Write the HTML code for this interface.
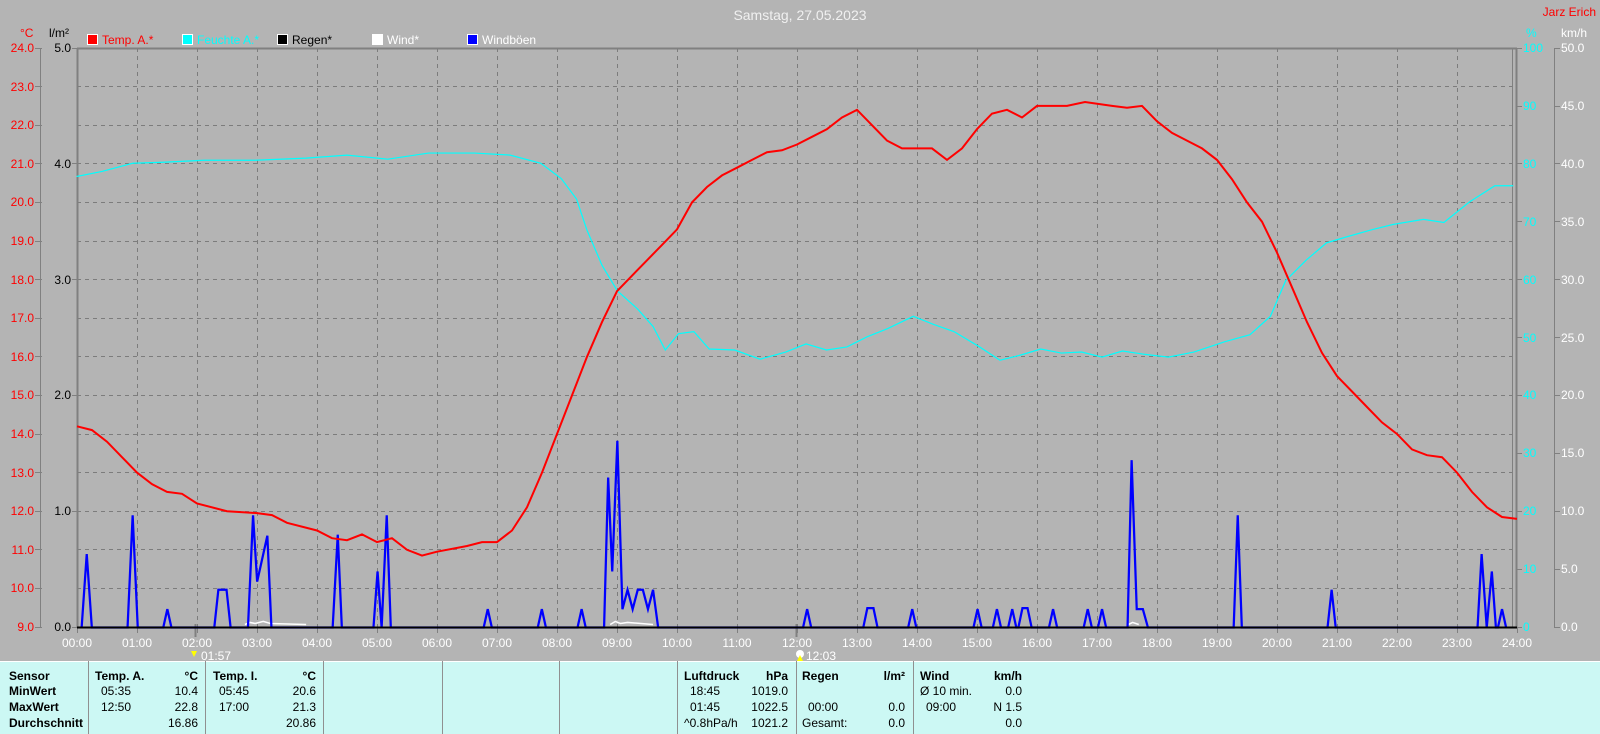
<!DOCTYPE html>
<html><head><meta charset="utf-8"><style>
body{margin:0;width:1600px;height:734px;overflow:hidden;background:#b4b4b4;font-family:"Liberation Sans",Arial,sans-serif;}
svg{position:absolute;left:0;top:0}
.t{position:absolute;font-size:12px;white-space:nowrap;line-height:14px}
.b{font-weight:bold}
.r{text-align:right}
</style></head><body>
<svg width="1600" height="734" font-family="Liberation Sans, Arial, sans-serif" font-size="12">
<text x="800" y="20" fill="#f0f0f0" font-size="14" text-anchor="middle">Samstag, 27.05.2023</text>
<text x="1596" y="16" fill="#ff0000" text-anchor="end">Jarz Erich</text>
<text x="20" y="37" fill="#ff0000">°C</text>
<text x="49" y="37" fill="#000">l/m²</text>
<text x="1526" y="37" fill="#00ffff">%</text>
<text x="1561" y="37" fill="#fff">km/h</text>
<!-- legend -->
<rect x="87.5" y="34.5" width="10" height="10" fill="#f00" stroke="#fff"/><text x="102" y="44" fill="#f00">Temp. A.*</text>
<rect x="182.5" y="34.5" width="10" height="10" fill="#0ff" stroke="#fff"/><text x="197" y="44" fill="#0ff">Feuchte A.*</text>
<rect x="277.5" y="34.5" width="10" height="10" fill="#000" stroke="#fff"/><text x="292" y="44" fill="#000">Regen*</text>
<rect x="372.5" y="34.5" width="10" height="10" fill="#fff" stroke="#fff"/><text x="387" y="44" fill="#fff">Wind*</text>
<rect x="467.5" y="34.5" width="10" height="10" fill="#00f" stroke="#fff"/><text x="482" y="44" fill="#fff">Windböen</text>
<!-- grid -->
<g stroke="#7c7c7c" stroke-dasharray="4,4" stroke-width="1">
<path d="M137.5 48V627M197.5 48V627M257.5 48V627M317.5 48V627M377.5 48V627M437.5 48V627M497.5 48V627M557.5 48V627M617.5 48V627M677.5 48V627M737.5 48V627M797.5 48V627M857.5 48V627M917.5 48V627M977.5 48V627M1037.5 48V627M1097.5 48V627M1157.5 48V627M1217.5 48V627M1277.5 48V627M1337.5 48V627M1397.5 48V627M1457.5 48V627"/>
<path d="M77 86.5H1512M77 125.5H1512M77 163.5H1512M77 202.5H1512M77 241.5H1512M77 279.5H1512M77 318.5H1512M77 356.5H1512M77 395.5H1512M77 434.5H1512M77 472.5H1512M77 511.5H1512M77 549.5H1512M77 588.5H1512"/>
</g>
<!-- axes -->
<g stroke="#808080" fill="none">
<path d="M77 48.5H1517" stroke-width="2"/>
<path d="M77.5 48V628" stroke-width="2"/>
<path d="M1512.5 48V627"/>
<path d="M1516.5 48V627" stroke-width="2"/>
<path d="M40.5 48V627"/>
<path d="M1554.5 48V627"/>
<path d="M35 48.5H42M35 86.5H42M35 125.5H42M35 163.5H42M35 202.5H42M35 241.5H42M35 279.5H42M35 318.5H42M35 356.5H42M35 395.5H42M35 434.5H42M35 472.5H42M35 511.5H42M35 549.5H42M35 588.5H42M35 627.5H42"/>
<path d="M72 48.5H77M72 163.5H77M72 279.5H77M72 395.5H77M72 511.5H77M72 627.5H77"/>
<path d="M1517 48.5H1522M1517 106.5H1522M1517 163.5H1522M1517 221.5H1522M1517 279.5H1522M1517 337.5H1522M1517 395.5H1522M1517 453.5H1522M1517 511.5H1522M1517 569.5H1522M1517 627.5H1522"/>
<path d="M1554 48.5H1560M1554 106.5H1560M1554 163.5H1560M1554 221.5H1560M1554 279.5H1560M1554 337.5H1560M1554 395.5H1560M1554 453.5H1560M1554 511.5H1560M1554 569.5H1560M1554 627.5H1560"/>
<path d="M77.5 627V633M137.5 627V633M197.5 627V633M257.5 627V633M317.5 627V633M377.5 627V633M437.5 627V633M497.5 627V633M557.5 627V633M617.5 627V633M677.5 627V633M737.5 627V633M797.5 627V633M857.5 627V633M917.5 627V633M977.5 627V633M1037.5 627V633M1097.5 627V633M1157.5 627V633M1217.5 627V633M1277.5 627V633M1337.5 627V633M1397.5 627V633M1457.5 627V633M1517.5 627V633"/>
<path d="M195.5 624V637M796.5 624V637" stroke-width="2"/>
</g>
<g fill="#ff0000" text-anchor="end">
<text x="34" y="52">24.0</text><text x="34" y="91">23.0</text><text x="34" y="129">22.0</text><text x="34" y="168">21.0</text><text x="34" y="206">20.0</text><text x="34" y="245">19.0</text><text x="34" y="284">18.0</text><text x="34" y="322">17.0</text><text x="34" y="361">16.0</text><text x="34" y="399">15.0</text><text x="34" y="438">14.0</text><text x="34" y="477">13.0</text><text x="34" y="515">12.0</text><text x="34" y="554">11.0</text><text x="34" y="592">10.0</text><text x="34" y="631">9.0</text>
</g>
<g fill="#000" text-anchor="end">
<text x="71" y="52">5.0</text><text x="71" y="168">4.0</text><text x="71" y="284">3.0</text><text x="71" y="399">2.0</text><text x="71" y="515">1.0</text><text x="71" y="631">0.0</text>
</g>
<g fill="#00ffff">
<text x="1523" y="52">100</text><text x="1523" y="110">90</text><text x="1523" y="168">80</text><text x="1523" y="226">70</text><text x="1523" y="284">60</text><text x="1523" y="342">50</text><text x="1523" y="399">40</text><text x="1523" y="457">30</text><text x="1523" y="515">20</text><text x="1523" y="573">10</text><text x="1523" y="631">0</text>
</g>
<g fill="#fff">
<text x="1561" y="52">50.0</text><text x="1561" y="110">45.0</text><text x="1561" y="168">40.0</text><text x="1561" y="226">35.0</text><text x="1561" y="284">30.0</text><text x="1561" y="342">25.0</text><text x="1561" y="399">20.0</text><text x="1561" y="457">15.0</text><text x="1561" y="515">10.0</text><text x="1561" y="573">5.0</text><text x="1561" y="631">0.0</text>
</g>
<g fill="#fff" text-anchor="middle">
<text x="77" y="647">00:00</text><text x="137" y="647">01:00</text><text x="197" y="647">02:00</text><text x="257" y="647">03:00</text><text x="317" y="647">04:00</text><text x="377" y="647">05:00</text><text x="437" y="647">06:00</text><text x="497" y="647">07:00</text><text x="557" y="647">08:00</text><text x="617" y="647">09:00</text><text x="677" y="647">10:00</text><text x="737" y="647">11:00</text><text x="797" y="647">12:00</text><text x="857" y="647">13:00</text><text x="917" y="647">14:00</text><text x="977" y="647">15:00</text><text x="1037" y="647">16:00</text><text x="1097" y="647">17:00</text><text x="1157" y="647">18:00</text><text x="1217" y="647">19:00</text><text x="1277" y="647">20:00</text><text x="1337" y="647">21:00</text><text x="1397" y="647">22:00</text><text x="1457" y="647">23:00</text><text x="1517" y="647">24:00</text>
</g>
<path d="M191 651h6l-3 6z" fill="#ffff00"/><text x="201" y="660" fill="#fff">01:57</text>
<circle cx="800" cy="654" r="4" fill="#fff"/><path d="M800 655l-3 6h6z" fill="#ffff00"/><text x="806" y="660" fill="#fff">12:03</text>
<!-- series in main coords -->
<g transform="scale(1.0204)">
<polyline fill="none" stroke="#ffffff" stroke-width="1.5" points="240,612 245,610 250,611 258,609 265,611 300,612 M600,612"/>
<polyline fill="none" stroke="#ffffff" stroke-width="1.5" points="598,612 603,609 608,611 615,610 640,612"/>
<polyline fill="none" stroke="#ffffff" stroke-width="1.5" points="1106,612 1110,610 1116,612"/>
<polyline fill="none" stroke="#00ffff" stroke-width="1.2" points="75,173 100,168 130,160 160,159 200,157 250,157 300,155 340,152 380,156 420,150 465,150 500,152 530,160 550,175 565,195 575,225 590,260 605,285 625,303 640,320 652,343 665,327 680,325 695,342 720,343 745,352 770,345 790,337 810,343 830,340 850,330 870,322 895,310 915,318 935,325 960,340 980,353 1000,348 1020,342 1040,346 1060,345 1080,350 1100,344 1120,347 1145,350 1170,345 1200,335 1225,328 1245,310 1260,275 1280,255 1300,238 1320,232 1345,225 1365,220 1395,215 1415,218 1440,198 1465,182 1483,182"/>
<polyline fill="none" stroke="#0000ff" stroke-width="2.2" stroke-linejoin="miter" points="80,615 85,543 90,615 125,615 130,505 135,615 160,615 164,597 168,615 210,615 214,578 222,578 226,615 243,615 248,505 252,570 262,525 266,615 326,615 331,524 335,615 366,615 370,560 374,615 379,505 383,615 474,615 478,597 482,615 527,615 531,597 535,615 566,615 570,597 574,615 592,615 596,468 600,560 605,432 610,597 615,578 620,597 625,578 630,578 635,597 640,578 645,615 787,615 791,597 795,615 846,615 850,596 856,596 860,615 890,615 894,597 898,615 954,615 958,597 962,615 973,615 977,597 981,615 988,615 992,597 996,615 998,615 1002,596 1007,596 1011,615 1028,615 1032,597 1036,615 1062,615 1066,597 1070,615 1076,615 1080,597 1084,615 1105,615 1109,451 1114,597 1120,597 1125,615 1209,615 1213,505 1217,615 1301,615 1305,578 1309,615 1448,615 1452,543 1457,615 1462,560 1466,615 1468,615 1472,597 1476,615"/>
</g>
<polyline fill="none" stroke="#ff0000" stroke-width="2" points="77,426.3 92,430.1 107,441.7 122,457.2 137,472.6 152,484.2 167,491.9 182,493.8 197,503.5 227,511.2 257,513.1 272,515.1 287,522.8 317,530.5 332,538.2 347,540.2 362,534.4 377,542.1 392,538.2 407,549.8 422,555.6 437,551.7 467,546 482,542.1 497,542.1 512,530.5 527,507.3 542,472.6 557,434 572,395.4 587,356.8 602,322.1 617,291.2 632,275.7 647,260.3 662,244.9 677,229.4 692,202.4 707,187 722,175.4 737,167.7 752,159.9 767,152.2 782,150.3 797,144.5 812,136.8 827,129.1 842,117.5 857,109.8 872,125.2 887,140.6 902,148.4 932,148.4 947,159.9 962,148.4 977,129.1 992,113.6 1007,109.8 1022,117.5 1037,105.9 1067,105.9 1085,102 1112,105.9 1127,107.8 1142,105.9 1157,121.3 1172,132.9 1187,140.6 1202,148.4 1217,159.9 1232,179.2 1247,202.4 1262,221.7 1277,252.6 1292,287.3 1307,322.1 1322,352.9 1337,376.1 1352,391.5 1367,407 1382,422.4 1397,434 1412,449.4 1427,455.2 1442,457.2 1457,472.6 1472,491.9 1487,507.3 1502,517 1517,518.9"/>
<path d="M77 627.5H1517" stroke="#000" stroke-width="2"/>
<!-- table -->
<rect x="0" y="661" width="1600" height="73" fill="#ccf8f4"/>
<path d="M0 661.5H1600" stroke="#fff"/>
<g stroke="#909090"><path d="M88.5 661V734M205.5 661V734M323.5 661V734M442.5 661V734M559.5 661V734M677.5 661V734M796.5 661V734M913.5 661V734"/></g>
</svg>
<div class="t b" style="left:9px;top:669px">Sensor</div>
<div class="t b" style="left:9px;top:684px">MinWert</div>
<div class="t b" style="left:9px;top:700px">MaxWert</div>
<div class="t b" style="left:9px;top:716px">Durchschnitt</div>
<div class="t b" style="left:95px;top:669px">Temp. A.</div><div class="t b r" style="left:150px;width:48px;top:669px">°C</div>
<div class="t" style="left:101px;top:684px">05:35</div><div class="t r" style="left:150px;width:48px;top:684px">10.4</div>
<div class="t" style="left:101px;top:700px">12:50</div><div class="t r" style="left:150px;width:48px;top:700px">22.8</div>
<div class="t r" style="left:150px;width:48px;top:716px">16.86</div>
<div class="t b" style="left:213px;top:669px">Temp. I.</div><div class="t b r" style="left:268px;width:48px;top:669px">°C</div>
<div class="t" style="left:219px;top:684px">05:45</div><div class="t r" style="left:268px;width:48px;top:684px">20.6</div>
<div class="t" style="left:219px;top:700px">17:00</div><div class="t r" style="left:268px;width:48px;top:700px">21.3</div>
<div class="t r" style="left:268px;width:48px;top:716px">20.86</div>
<div class="t b" style="left:684px;top:669px">Luftdruck</div><div class="t b r" style="left:740px;width:48px;top:669px">hPa</div>
<div class="t" style="left:690px;top:684px">18:45</div><div class="t r" style="left:740px;width:48px;top:684px">1019.0</div>
<div class="t" style="left:690px;top:700px">01:45</div><div class="t r" style="left:740px;width:48px;top:700px">1022.5</div>
<div class="t" style="left:684px;top:716px">^0.8hPa/h</div><div class="t r" style="left:740px;width:48px;top:716px">1021.2</div>
<div class="t b" style="left:802px;top:669px">Regen</div><div class="t b r" style="left:857px;width:48px;top:669px">l/m²</div>
<div class="t" style="left:808px;top:700px">00:00</div><div class="t r" style="left:857px;width:48px;top:700px">0.0</div>
<div class="t" style="left:802px;top:716px">Gesamt:</div><div class="t r" style="left:857px;width:48px;top:716px">0.0</div>
<div class="t b" style="left:920px;top:669px">Wind</div><div class="t b r" style="left:974px;width:48px;top:669px">km/h</div>
<div class="t" style="left:920px;top:684px">Ø 10 min.</div><div class="t r" style="left:974px;width:48px;top:684px">0.0</div>
<div class="t" style="left:926px;top:700px">09:00</div><div class="t r" style="left:974px;width:48px;top:700px">N 1.5</div>
<div class="t r" style="left:974px;width:48px;top:716px">0.0</div>
</body></html>
